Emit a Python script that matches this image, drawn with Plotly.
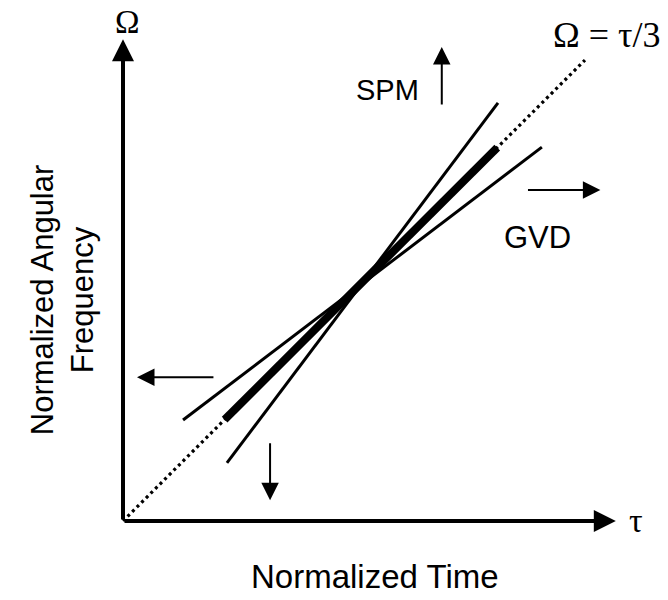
import plotly.graph_objects as go

# Phase-space sketch: normalized time (tau) vs normalized angular frequency (Omega)
# Reference chirp line Omega = tau/3 and two lines rotated about the pulse centre.
ref_tau = [0.0, 30.0]
ref_omega = [0.0, 10.0]

pulse_tau = [6.6, 24.3]
pulse_omega = [2.2, 8.1]

spm_tau = [6.75, 24.35]
spm_omega = [1.26, 9.07]

gvd_tau = [3.9, 27.2]
gvd_omega = [2.19, 8.11]

tau_axis_len = 32.0
omega_axis_len = 10.45

# Direction arrows: (tail_tau, tail_omega, tip_tau, tip_omega)
spm_arrow = [20.7, 9.0, 20.7, 10.28]
gvd_arrow = [26.2, 7.18, 31.0, 7.18]
left_arrow = [5.97, 3.12, 0.91, 3.12]
down_arrow = [9.55, 1.72, 9.55, 0.45]

SANS = "Liberation Sans, Arial, sans-serif"
SERIF = "Liberation Serif, Times New Roman, serif"

fig = go.Figure()

fig.add_trace(go.Scatter(x=ref_tau, y=ref_omega, mode="lines",
                         line=dict(color="black", width=3.2, dash="3px,3.5px")))
fig.add_trace(go.Scatter(x=pulse_tau, y=pulse_omega, mode="lines",
                         line=dict(color="black", width=8)))
fig.add_trace(go.Scatter(x=spm_tau, y=spm_omega, mode="lines",
                         line=dict(color="black", width=3)))
fig.add_trace(go.Scatter(x=gvd_tau, y=gvd_omega, mode="lines",
                         line=dict(color="black", width=3)))

annotations = []


def arrow(t0, o0, t1, o1, width, size):
    annotations.append(dict(x=t1, y=o1, ax=t0, ay=o0, xref="x", yref="y",
                            axref="x", ayref="y", text="", showarrow=True,
                            arrowhead=2, arrowwidth=width, arrowsize=size,
                            arrowcolor="black", standoff=0, startstandoff=0))


# coordinate axes
arrow(0, 0, tau_axis_len, 0, 4, 1.1)
arrow(0, 0, 0, omega_axis_len, 4, 1.1)
for a in (spm_arrow, gvd_arrow, left_arrow, down_arrow):
    arrow(a[0], a[1], a[2], a[3], 2, 1.75)


def label(text, x, y, size, family, angle=0):
    annotations.append(dict(x=x, y=y, xref="x", yref="y", text=text,
                            showarrow=False, textangle=angle,
                            font=dict(size=size, family=family, color="black"),
                            xanchor="center", yanchor="middle"))


label("Ω", 0.26, 10.82, 33, SERIF)
label("Ω = τ/3", 31.4, 10.55, 36, SERIF)
label("τ", 33.3, 0.0, 34, SERIF)
label("SPM", 17.2, 9.35, 29, SANS)
label("GVD", 26.9, 6.16, 31, SANS)
label("Normalized Time", 16.36, -1.21, 33, SANS)
label("Normalized Angular<br>Frequency", -3.96, 4.79, 31, SANS, -90)

fig.update_layout(
    width=668, height=600,
    margin=dict(l=0, r=0, t=0, b=0),
    paper_bgcolor="white", plot_bgcolor="white",
    showlegend=False,
    annotations=annotations,
    xaxis=dict(range=[-7.987, 35.39], visible=False, fixedrange=True),
    yaxis=dict(range=[-1.714, 11.302], visible=False, fixedrange=True),
)

fig.write_html("out.html")
